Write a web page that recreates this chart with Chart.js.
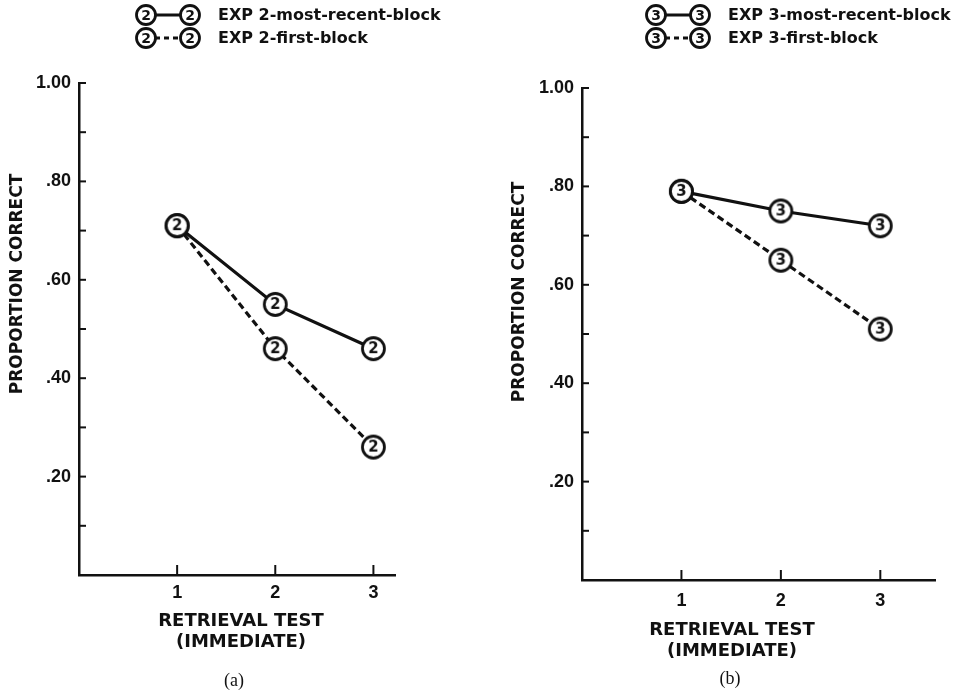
<!DOCTYPE html>
<html><head><meta charset="utf-8">
<script src="https://cdn.jsdelivr.net/npm/chart.js@4.4.0/dist/chart.umd.min.js"></script>
<style>
html,body{margin:0;padding:0;background:#fff;}
#wrap{position:relative;width:960px;height:698px;overflow:hidden;}
.panel{position:absolute;top:0;width:480px;height:698px;}
#pa{left:0}
#pb{left:480px}
</style></head><body>
<div id="wrap">
<div class="panel" id="pa"><canvas id="ca" width="480" height="698"></canvas></div>
<div class="panel" id="pb"><canvas id="cb" width="480" height="698"></canvas></div>
</div>
<script>
// ---- data ----
const retrievalTests = [1, 2, 3];
const exp2MostRecent = [0.71, 0.55, 0.46];
const exp2First = [0.71, 0.46, 0.26];
const exp3MostRecent = [0.79, 0.75, 0.72];
const exp3First = [0.79, 0.65, 0.51];
const yTickValues = [0, 0.1, 0.2, 0.3, 0.4, 0.5, 0.6, 0.7, 0.8, 0.9, 1.0];
const yTickLabels = ['', '', '.20', '', '.40', '', '.60', '', '.80', '', '1.00'];
const xTickLabels = ['1', '2', '3'];
const xTitle = ['RETRIEVAL TEST', '(IMMEDIATE)'];
const yTitle = 'PROPORTION CORRECT';

const INK = '#111';
const LETTER = '"DejaVu Sans", sans-serif';
const DIGITS = '"Liberation Sans Narrow", "Liberation Sans", Arial, sans-serif';

function makeMarker(digit, r, fontPx) {
  const lw = 2.8;
  const s = Math.ceil(2 * r + lw + 2);
  const c = document.createElement('canvas');
  c.width = s; c.height = s;
  const g = c.getContext('2d');
  g.beginPath();
  g.arc(s / 2, s / 2, r, 0, Math.PI * 2);
  g.fillStyle = '#fff'; g.fill();
  g.lineWidth = lw; g.strokeStyle = INK; g.stroke();
  g.fillStyle = INK;
  g.font = 'bold ' + fontPx + 'px ' + LETTER;
  g.textAlign = 'center'; g.textBaseline = 'middle';
  g.fillText(digit, s / 2, s / 2 + 1);
  return c;
}

const decorPlugin = {
  id: 'decor',
  afterDraw(chart, args, o) {
    const ctx = chart.ctx;
    const area = chart.chartArea;
    const ys = chart.scales.y, xs = chart.scales.x;
    ctx.save();
    // inward tick marks
    ctx.strokeStyle = INK; ctx.lineWidth = 2;
    ys.ticks.forEach(t => {
      if (t.value <= 0) return;
      const py = ys.getPixelForValue(t.value);
      ctx.beginPath(); ctx.moveTo(area.left, py); ctx.lineTo(area.left + 7, py); ctx.stroke();
    });
    xs.ticks.forEach(t => {
      const px = xs.getPixelForValue(t.value);
      ctx.beginPath(); ctx.moveTo(px, area.bottom); ctx.lineTo(px, area.bottom - 10); ctx.stroke();
    });
    ctx.fillStyle = INK;
    // x axis title
    ctx.font = 'bold 18px ' + LETTER;
    ctx.textAlign = 'center'; ctx.textBaseline = 'middle';
    xTitle.forEach((line, i) => ctx.fillText(line, o.xTitleX, o.xTitleY + i * 21.5));
    // y axis title
    ctx.font = 'bold 17px ' + LETTER;
    ctx.translate(o.yTitleX, o.yTitleY);
    ctx.rotate(-Math.PI / 2);
    ctx.fillText(yTitle, 0, 0);
    ctx.setTransform(1, 0, 0, 1, 0, 0);
    // caption
    ctx.font = '18px "Liberation Serif", serif';
    ctx.fillText(o.caption, o.captionX, o.captionY);
    // legend
    chart.data.datasets.forEach((ds, i) => {
      const ly = o.legendY[i];
      const c1 = o.legendC1, c2 = o.legendC2;
      ctx.beginPath();
      ctx.lineWidth = 3;
      ctx.setLineDash(ds.borderDash ? [5, 4] : []);
      ctx.moveTo(c1, ly); ctx.lineTo(c2, ly); ctx.stroke();
      ctx.setLineDash([]);
      const m = o.legendMarker;
      ctx.drawImage(m, c1 - m.width / 2, ly - m.height / 2);
      ctx.drawImage(m, c2 - m.width / 2, ly - m.height / 2);
      ctx.font = 'bold 16px ' + LETTER;
      ctx.textAlign = 'left';
      ctx.fillText(ds.label, o.legendTextX, ly + 1);
    });
    ctx.restore();
  }
};

function build(canvasId, digit, mostRecent, first, cfg) {
  const marker = makeMarker(digit, 11, 15);
  const legendMarker = makeMarker(digit, 9.5, 14);
  const pts = arr => retrievalTests.map((x, i) => ({ x: x, y: arr[i] }));
  return new Chart(document.getElementById(canvasId), {
    type: 'line',
    data: {
      datasets: [
        { label: 'EXP ' + digit + '-most-recent-block', data: pts(mostRecent),
          borderColor: INK, borderWidth: 3.2, pointStyle: marker, pointRadius: 11,
          pointHoverRadius: 11, fill: false, tension: 0, clip: false },
        { label: 'EXP ' + digit + '-first-block', data: pts(first),
          borderColor: INK, borderWidth: 3.2, borderDash: [7, 4], pointStyle: marker,
          pointRadius: 11, pointHoverRadius: 11, fill: false, tension: 0, clip: false }
      ]
    },
    options: {
      responsive: false,
      animation: false,
      events: [],
      layout: { padding: { top: cfg.top, right: cfg.right, bottom: cfg.bottom, left: 0 } },
      plugins: {
        legend: { display: false },
        tooltip: { enabled: false },
        decor: {
          yTitleX: cfg.yTitleX, yTitleY: cfg.yTitleY,
          xTitleX: cfg.xTitleX, xTitleY: cfg.xTitleY,
          caption: cfg.caption, captionX: cfg.captionX, captionY: cfg.captionY,
          legendY: [15, 38], legendC1: cfg.c1, legendC2: cfg.c2, legendTextX: cfg.textX,
          legendMarker: legendMarker
        }
      },
      scales: {
        x: {
          type: 'linear', min: 0, max: cfg.xMax,
          afterBuildTicks: s => { s.ticks = retrievalTests.map(v => ({ value: v })); },
          afterFit: s => { s.height = cfg.xHeight; },
          ticks: {
            color: INK, padding: cfg.xTickPad,
            font: { family: DIGITS, weight: 'bold', size: 18 },
            callback: (v) => xTickLabels[retrievalTests.indexOf(v)] ?? ''
          },
          grid: { drawOnChartArea: false, drawTicks: false },
          border: { display: true, color: INK, width: 2.5 }
        },
        y: {
          min: 0, max: 1,
          afterBuildTicks: s => { s.ticks = yTickValues.map(v => ({ value: v })); },
          afterFit: s => { s.width = cfg.yWidth; },
          ticks: {
            color: INK, padding: 8,
            font: { family: DIGITS, weight: 'bold', size: 18 },
            callback: (v) => yTickLabels[Math.round(v * 10)]
          },
          grid: { drawOnChartArea: false, drawTicks: false },
          border: { display: true, color: INK, width: 2.5 }
        }
      }
    },
    plugins: [decorPlugin]
  });
}

build('ca', '2', exp2MostRecent, exp2First, {
  top: 83, right: 85, bottom: 23, yWidth: 79, xMax: 3.22, xHeight: 100,
  xTickPad: 7, yTitleX: 18, yTitleY: 284, xTitleX: 241, xTitleY: 621,
  caption: '(a)', captionX: 234, captionY: 681, c1: 146, c2: 190, textX: 218
});
build('cb', '3', exp3MostRecent, exp3First, {
  top: 88, right: 25, bottom: 18, yWidth: 102, xMax: 3.55, xHeight: 100,
  xTickPad: 10, yTitleX: 40, yTitleY: 292, xTitleX: 252, xTitleY: 630,
  caption: '(b)', captionX: 250, captionY: 679, c1: 176, c2: 220, textX: 248
});
</script>
</body></html>
